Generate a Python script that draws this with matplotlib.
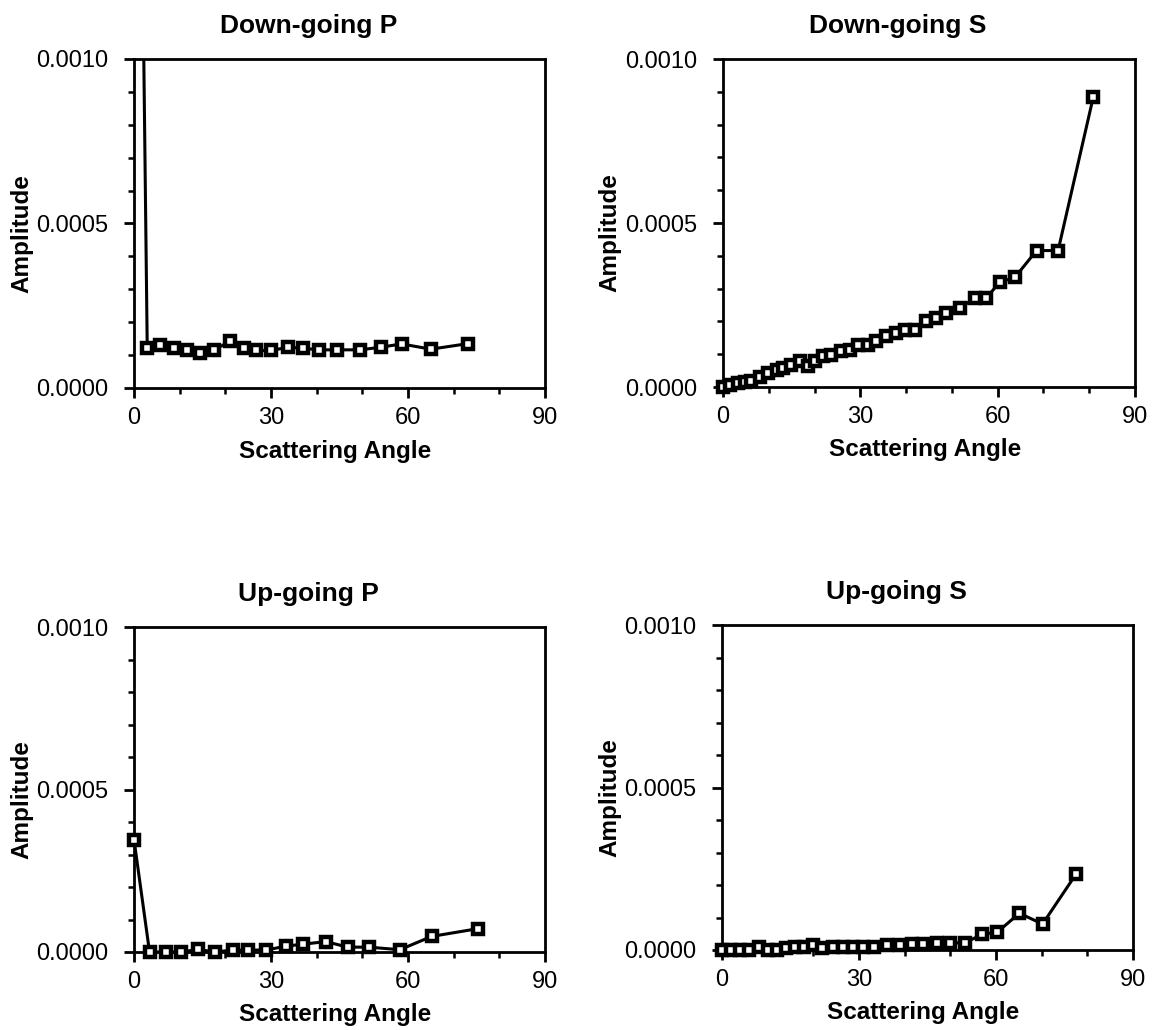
import numpy as np
import matplotlib
matplotlib.use("Agg")
import matplotlib.pyplot as plt
from matplotlib.ticker import MultipleLocator, FormatStrFormatter

plt.rcParams['font.family'] = ['Liberation Sans', 'DejaVu Sans']

titles = ["Down-going P", "Down-going S", "Up-going P", "Up-going S"]
x_label = "Scattering Angle"
y_label = "Amplitude"

dp_x = [0.0, 2.9, 5.8, 8.7, 11.6, 14.5, 17.5, 21.1, 24.0, 26.7, 30.1, 33.7, 37.0,
        40.5, 44.5, 49.5, 54.1, 58.6, 65.0, 73.2]
dp_y = [0.0035, 0.000121, 0.000132, 0.000121, 0.000114, 0.000106, 0.000116, 0.000142,
        0.000121, 0.000114, 0.000114, 0.000124, 0.000121, 0.000116, 0.000116, 0.000116,
        0.000124, 0.000134, 0.000118, 0.000135]

ds_x = [0.0, 1.5, 3.3, 4.7, 6.2, 8.0, 9.8, 11.7, 13.1, 14.9, 16.8, 18.6, 20.0, 21.9,
        23.6, 25.7, 27.7, 29.5, 31.7, 33.5, 35.7, 37.9, 39.7, 41.9, 44.3, 46.6, 48.8,
        51.8, 55.0, 57.4, 60.5, 63.8, 68.5, 73.2, 80.9]
ds_y = [0.0, 0.000005, 0.000012, 0.000015, 0.000017, 0.00003, 0.000043, 0.000053,
        0.000058, 0.000068, 0.000078, 0.000063, 0.000078, 0.000093, 0.000098, 0.000109,
        0.000114, 0.000129, 0.000129, 0.000139, 0.000154, 0.000164, 0.000175, 0.000175,
        0.0002, 0.00021, 0.000225, 0.000241, 0.000271, 0.000271, 0.000319, 0.000335,
        0.000416, 0.000416, 0.000885]

up_x = [0.0, 3.4, 7.1, 10.4, 14.0, 17.7, 21.7, 25.0, 29.0, 33.2, 37.0, 42.0, 46.8,
        51.4, 58.2, 65.2, 75.4]
up_y = [0.000346, 0.0, 0.0, 0.0, 0.000008, 0.0, 0.000006, 0.000006, 0.000006,
        0.000018, 0.000024, 0.000032, 0.000015, 0.000015, 0.000007, 0.000048, 0.000072]

us_x = [0.0, 2.0, 4.0, 6.0, 8.0, 10.0, 12.0, 14.0, 16.0, 18.0, 20.0, 22.0, 24.3, 26.5,
        28.7, 30.9, 33.2, 36.1, 39.0, 41.5, 44.1, 47.0, 49.9, 53.2, 56.9, 60.3, 65.1,
        70.2, 77.5]
us_y = [0.0, 0.0, 0.0, 0.0, 0.000008, 0.0, 0.0, 0.000006, 0.000008, 0.000008, 0.000016,
        0.000006, 0.000008, 0.000008, 0.000008, 0.000008, 0.000008, 0.000015, 0.000015,
        0.000018, 0.000018, 0.000022, 0.000022, 0.000022, 0.000048, 0.000055, 0.000113,
        0.00008, 0.000233]

series = [(dp_x, dp_y), (ds_x, ds_y), (up_x, up_y), (us_x, us_y)]

W, H = 1155, 1030
fig = plt.figure(figsize=(W / 100, H / 100), dpi=100)
# pixel boxes: left, right, top, bottom
boxes = [(134, 545, 59, 388), (723, 1135, 59, 387), (134, 545, 627, 952), (722, 1133, 625, 950)]

for (l, r, t, b), title, (xs, ys) in zip(boxes, titles, series):
    ax = fig.add_axes([l / W, (H - b) / H, (r - l) / W, (b - t) / H])
    xs = np.array(xs)
    ys = np.array(ys)
    ax.plot(xs, ys, color='black', lw=2.2, zorder=2)
    inside = ys <= 0.001
    ax.plot(xs[inside], ys[inside], linestyle='none', marker='s', markersize=7,
            markerfacecolor='white', markeredgecolor='black', markeredgewidth=3.2,
            clip_on=False, zorder=3)
    ax.set_xlim(0, 90)
    ax.set_ylim(0, 0.001)
    ax.xaxis.set_major_locator(MultipleLocator(30))
    ax.xaxis.set_minor_locator(MultipleLocator(10))
    ax.yaxis.set_major_locator(MultipleLocator(0.0005))
    ax.yaxis.set_minor_locator(MultipleLocator(0.0001))
    ax.yaxis.set_major_formatter(FormatStrFormatter('%.4f'))
    ax.tick_params(which='major', direction='out', length=7.5, width=2.0, labelsize=17, pad=6)
    ax.tick_params(which='minor', direction='out', length=4, width=1.8)
    ax.tick_params(axis='y', which='major', pad=11)
    for sp in ax.spines.values():
        sp.set_linewidth(2.0)
    ttl = ax.set_title(title, fontsize=19, fontweight='bold', pad=19)
    ttl.set_x(0.425)
    ax.set_xlabel(x_label, fontsize=17.5, fontweight='bold')
    ax.set_ylabel(y_label, fontsize=17.5, fontweight='bold')
    ax.xaxis.set_label_coords(0.49, -0.157)
    ax.yaxis.set_label_coords(-0.246, 0.47)

fig.savefig("out.png", dpi=100)
